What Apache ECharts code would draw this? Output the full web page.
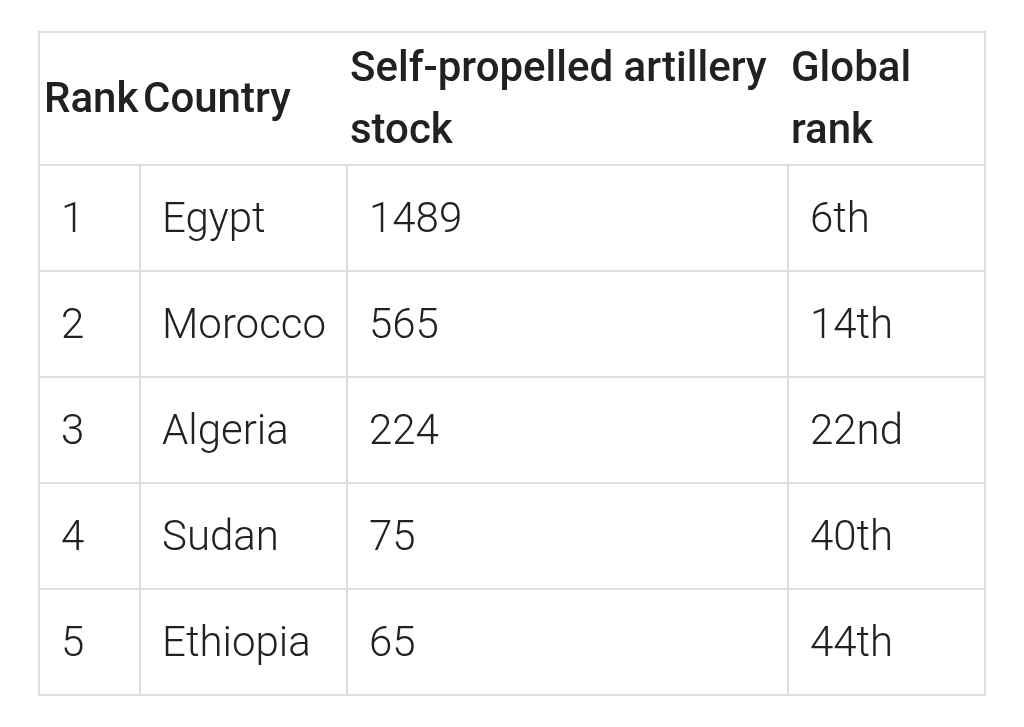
<!DOCTYPE html>
<html>
<head>
<meta charset="utf-8">
<script src="https://cdn.jsdelivr.net/npm/echarts@6/dist/echarts.min.js"></script>
<style>
html,body{margin:0;padding:0;background:#fff;}
#chart{width:1024px;height:727px;}
</style>
</head>
<body>
<div id="chart"></div>
<script>
// ---- data ----
const headers = ['Rank', 'Country', 'Self-propelled artillery\nstock', 'Global\nrank'];
const ranks = ['1', '2', '3', '4', '5'];
const countries = ['Egypt', 'Morocco', 'Algeria', 'Sudan', 'Ethiopia'];
const stock = [1489, 565, 224, 75, 65];
const globalRank = ['6th', '14th', '22nd', '40th', '44th'];

// ---- layout (table units) ----
const colEdges = [0, 101, 308, 749, 946];
const rowEdges = [0, 133, 239, 345, 451, 557, 663];

const columns = [ranks, countries, stock, globalRank];
const cells = [];
headers.forEach((h, c) => cells.push([c, 0, h]));
for (let r = 0; r < countries.length; r++) {
  columns.forEach((col, c) => cells.push([c, r + 1, String(col[r])]));
}

const chart = echarts.init(document.getElementById('chart'));
chart.setOption({
  backgroundColor: '#ffffff',
  animation: false,
  grid: { left: 39, right: 39, top: 32, bottom: 32 },
  xAxis: { type: 'value', min: 0, max: 946, show: false },
  yAxis: { type: 'value', min: 0, max: 663, inverse: true, show: false },
  series: [{
    type: 'custom',
    data: cells,
    clip: false,
    renderItem: function (params, api) {
      const c = api.value(0), r = api.value(1);
      const text = cells[params.dataIndex][2];
      const p0 = api.coord([colEdges[c], rowEdges[r]]);
      const p1 = api.coord([colEdges[c + 1], rowEdges[r + 1]]);
      const children = [];
      const isHeader = r === 0;
      if (isHeader) {
        if (c === 0) {
          const a = api.coord([colEdges[0], rowEdges[0]]);
          const b = api.coord([colEdges[colEdges.length - 1], rowEdges[1]]);
          children.push({
            type: 'rect',
            shape: { x: a[0], y: a[1], width: b[0] - a[0], height: b[1] - a[1] },
            style: { fill: null, stroke: '#dedede', lineWidth: 2 }
          });
        }
      } else {
        children.push({
          type: 'rect',
          shape: { x: p0[0], y: p0[1], width: p1[0] - p0[0], height: p1[1] - p0[1] },
          style: { fill: null, stroke: '#dedede', lineWidth: 2 }
        });
      }
      children.push({
        type: 'text',
        x: p0[0] + (isHeader ? (c === 0 ? 5 : 3) : 22),
        y: (p0[1] + p1[1]) / 2 + 3,
        style: {
          text: text,
          fill: '#202122',
          fontFamily: 'Roboto',
          fontSize: 42,
          fontWeight: isHeader ? 500 : 300,
          lineHeight: 62,
          align: 'left',
          verticalAlign: 'middle'
        }
      });
      return { type: 'group', children: children };
    }
  }]
});
</script>
</body>
</html>
